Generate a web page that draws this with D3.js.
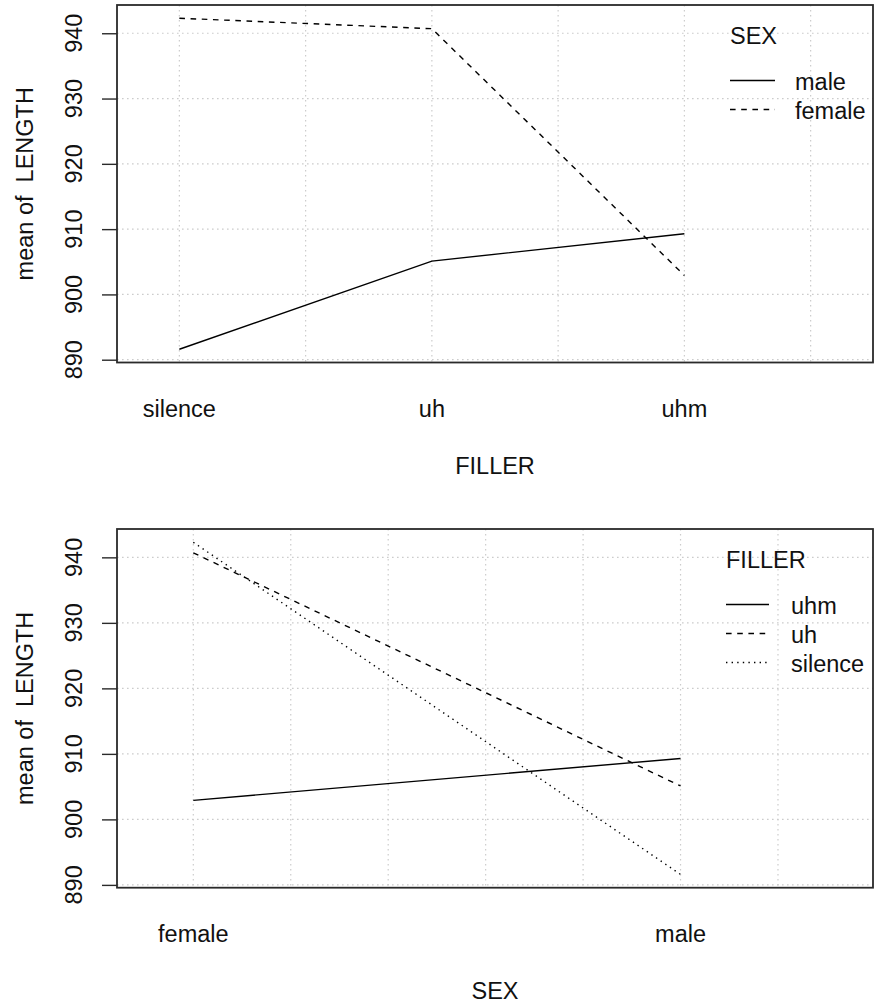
<!DOCTYPE html>
<html>
<head>
<meta charset="utf-8">
<script src="https://cdn.jsdelivr.net/npm/d3@7/dist/d3.min.js"></script>
<style>
  html, body { margin: 0; padding: 0; background: #fff; }
  svg { display: block; }
  text { font-family: "Liberation Sans", Arial, Helvetica, sans-serif; fill: #111; white-space: pre; }
</style>
</head>
<body>
<svg id="chart" width="875" height="1003"></svg>
<script>
// Mean LENGTH by FILLER and SEX (two interaction plots)
const fillers = ["silence", "uh", "uhm"];
const sexes = ["female", "male"];
const maleMeans = [891.6, 905.1, 909.3];     // silence, uh, uhm
const femaleMeans = [942.3, 940.7, 902.9];   // silence, uh, uhm
const yTicks = [890, 900, 910, 920, 930, 940];
const legendFillers = ["uhm", "uh", "silence"];

const svg = d3.select("#chart");
const FONT = 23.5;

const dashFor = {
  solid: null,
  dashed: "5.6,5.6",
  dotted: "1.4,4.2"
};

function label(g, str, x, y, anchor, rotate) {
  return g.append("text")
    .attr("transform", `translate(${x},${y})` + (rotate ? ` rotate(${rotate})` : ""))
    .attr("text-anchor", anchor)
    .attr("font-size", FONT)
    .attr("xml:space", "preserve")
    .text(str);
}

// y-domain padded by 4% on each side of the data range
const allVals = maleMeans.concat(femaleMeans);
const [ymin, ymax] = d3.extent(allVals);
const ypad = (ymax - ymin) * 0.04;

function panel(opts) {
  const { top, bottom, left, right, xDomain, gridX, cats, series, xTitle, legendTitle, legend } = opts;
  const g = svg.append("g");
  const x = d3.scaleLinear().domain(xDomain).range([left, right]);
  const y = d3.scaleLinear().domain([ymin - ypad, ymax + ypad]).range([bottom, top]);

  // grid
  const grid = g.append("g").attr("stroke", "#cccccc").attr("stroke-width", 1.2)
    .attr("stroke-dasharray", "1.6,3.4").attr("fill", "none");
  gridX.forEach(v => {
    grid.append("line").attr("x1", x(v)).attr("x2", x(v)).attr("y1", top).attr("y2", bottom);
  });
  yTicks.forEach(v => {
    grid.append("line").attr("x1", left).attr("x2", right).attr("y1", y(v)).attr("y2", y(v));
  });

  // data lines
  const line = d3.line().x((d, i) => x(i + 1)).y(d => y(d));
  series.forEach(s => {
    g.append("path").datum(s.values)
      .attr("d", line)
      .attr("fill", "none")
      .attr("stroke", "#000")
      .attr("stroke-width", 1.4)
      .attr("stroke-dasharray", dashFor[s.style]);
  });

  // box
  g.append("rect").attr("x", left).attr("y", top)
    .attr("width", right - left).attr("height", bottom - top)
    .attr("fill", "none").attr("stroke", "#2a2a2a").attr("stroke-width", 1.8);

  // y axis
  const yAxis = d3.axisLeft(y).tickValues(yTicks).tickSize(15).tickFormat("");
  const ya = g.append("g").attr("transform", `translate(${left},0)`).call(yAxis);
  ya.select(".domain").remove();
  ya.selectAll(".tick line").attr("stroke", "#2a2a2a").attr("stroke-width", 1.4);
  yTicks.forEach(v => label(g, String(v), 82, y(v), "middle", -90));
  label(g, "mean of  LENGTH", 33, (top + bottom) / 2, "middle", -90);

  // x category labels and title
  cats.forEach((c, i) => label(g, c, x(i + 1), bottom + 54, "middle"));
  label(g, xTitle, (left + right) / 2, bottom + 111, "middle");

  // legend
  label(g, legendTitle, legend.x, top + 38.5, "start");
  legend.items.forEach((it, i) => {
    const by = top + 84.5 + i * 29;
    g.append("line")
      .attr("x1", legend.x).attr("x2", legend.lineEnd)
      .attr("y1", by - 9).attr("y2", by - 9)
      .attr("stroke", "#000").attr("stroke-width", 1.4)
      .attr("stroke-dasharray", dashFor[it.style]);
    label(g, it.name, legend.textX, by, "start");
  });
}

// FILLER on the x axis, one line per SEX
panel({
  top: 5, bottom: 362.5, left: 117, right: 873,
  xDomain: [0.753, 3.747],
  gridX: [1, 1.5, 2, 2.5, 3, 3.5],
  cats: fillers,
  series: [
    { name: "male", values: maleMeans, style: "solid" },
    { name: "female", values: femaleMeans, style: "dashed" }
  ],
  xTitle: "FILLER",
  legendTitle: "SEX",
  legend: {
    x: 730, lineEnd: 775, textX: 795,
    items: [{ name: "male", style: "solid" }, { name: "female", style: "dashed" }]
  }
});

// SEX on the x axis, one line per FILLER
const byFiller = f => {
  const i = fillers.indexOf(f);
  return [femaleMeans[i], maleMeans[i]];
};
const fillerStyle = { uhm: "solid", uh: "dashed", silence: "dotted" };
panel({
  top: 529, bottom: 887.7, left: 117, right: 873,
  xDomain: [0.8434, 2.395],
  gridX: [1, 1.2, 1.4, 1.6, 1.8, 2, 2.2],
  cats: sexes,
  series: legendFillers.map(f => ({ name: f, values: byFiller(f), style: fillerStyle[f] })),
  xTitle: "SEX",
  legendTitle: "FILLER",
  legend: {
    x: 726, lineEnd: 769, textX: 791,
    items: legendFillers.map(f => ({ name: f, style: fillerStyle[f] }))
  }
});
</script>
</body>
</html>
